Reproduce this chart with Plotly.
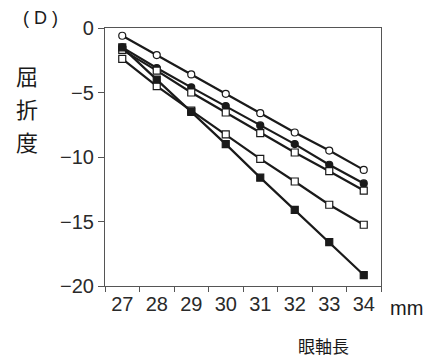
import plotly.graph_objects as go

axial_length = ["27", "28", "29", "30", "31", "32", "33", "34"]
open_circle = [-0.6, -2.1, -3.6, -5.1, -6.6, -8.1, -9.5, -11.0]
filled_circle = [-1.5, -3.1, -4.6, -6.05, -7.55, -9.0, -10.6, -12.05]
open_square_upper = [-1.7, -3.3, -5.0, -6.55, -8.15, -9.65, -11.1, -12.6]
open_square_lower = [-2.4, -4.5, -6.4, -8.25, -10.15, -11.9, -13.7, -15.25]
filled_square = [-1.5, -4.0, -6.5, -9.0, -11.6, -14.1, -16.6, -19.15]
y_ticks = [0, -5, -10, -15, -20]

LINE = "#1a1a1a"
series = [
    (open_circle, "circle", "white"),
    (filled_circle, "circle", LINE),
    (open_square_upper, "square", "white"),
    (open_square_lower, "square", "white"),
    (filled_square, "square", LINE),
]

fig = go.Figure()
for vals, sym, fill in series:
    fig.add_trace(go.Scatter(
        x=axial_length, y=vals, mode="lines+markers",
        line=dict(color=LINE, width=2.2),
        marker=dict(symbol=sym, size=7, color=fill, line=dict(color=LINE, width=1.2)),
        showlegend=False,
    ))

font = dict(family="Liberation Sans, Arial, sans-serif", size=20, color="#2a2a2a")
fig.update_layout(
    width=432, height=360,
    margin=dict(l=105, r=51, t=28, b=74),
    paper_bgcolor="white", plot_bgcolor="white",
    font=font,
    xaxis=dict(type="category", tickson="boundaries", ticks="outside", ticklen=5,
               tickcolor="#555", showline=True, linecolor="#555", linewidth=1.2,
               mirror=True, showgrid=False, zeroline=False, tickfont=font,
               range=[-0.5, 7.5]),
    yaxis=dict(range=[-20, 0], tickvals=y_ticks, ticks="outside", ticklen=6,
               tickcolor="#555", showline=True, linecolor="#555", linewidth=1.2,
               mirror=True, showgrid=False, zeroline=False, tickfont=font),
)

cjk = "Noto Sans CJK JP, sans-serif"
# positions given in figure pixels (from top-left), converted to the plot's paper domain
L, R, T, B, W, H = 105, 51, 28, 74, 432, 360
pw, ph = W - L - R, H - T - B
anns = [
    ("( D )", 40, 18, 18, font["family"]),
    ("屈", 27, 75, 22, cjk),
    ("折", 27, 108, 22, cjk),
    ("度", 27, 141, 22, cjk),
    ("mm", 406, 308, 20, font["family"]),
    ("眼軸長", 323, 345, 17, cjk),
]
for text, px, py, size, fam in anns:
    fig.add_annotation(text=text, x=(px - L) / pw, y=(H - B - py) / ph,
                       xref="paper", yref="paper", xanchor="center", yanchor="middle",
                       showarrow=False,
                       font=dict(family=fam, size=size, color="#1a1a1a"))

fig.write_html("out.html", config={"displayModeBar": False},
               post_script="document.body.style.margin='0';document.body.style.padding='0';")
